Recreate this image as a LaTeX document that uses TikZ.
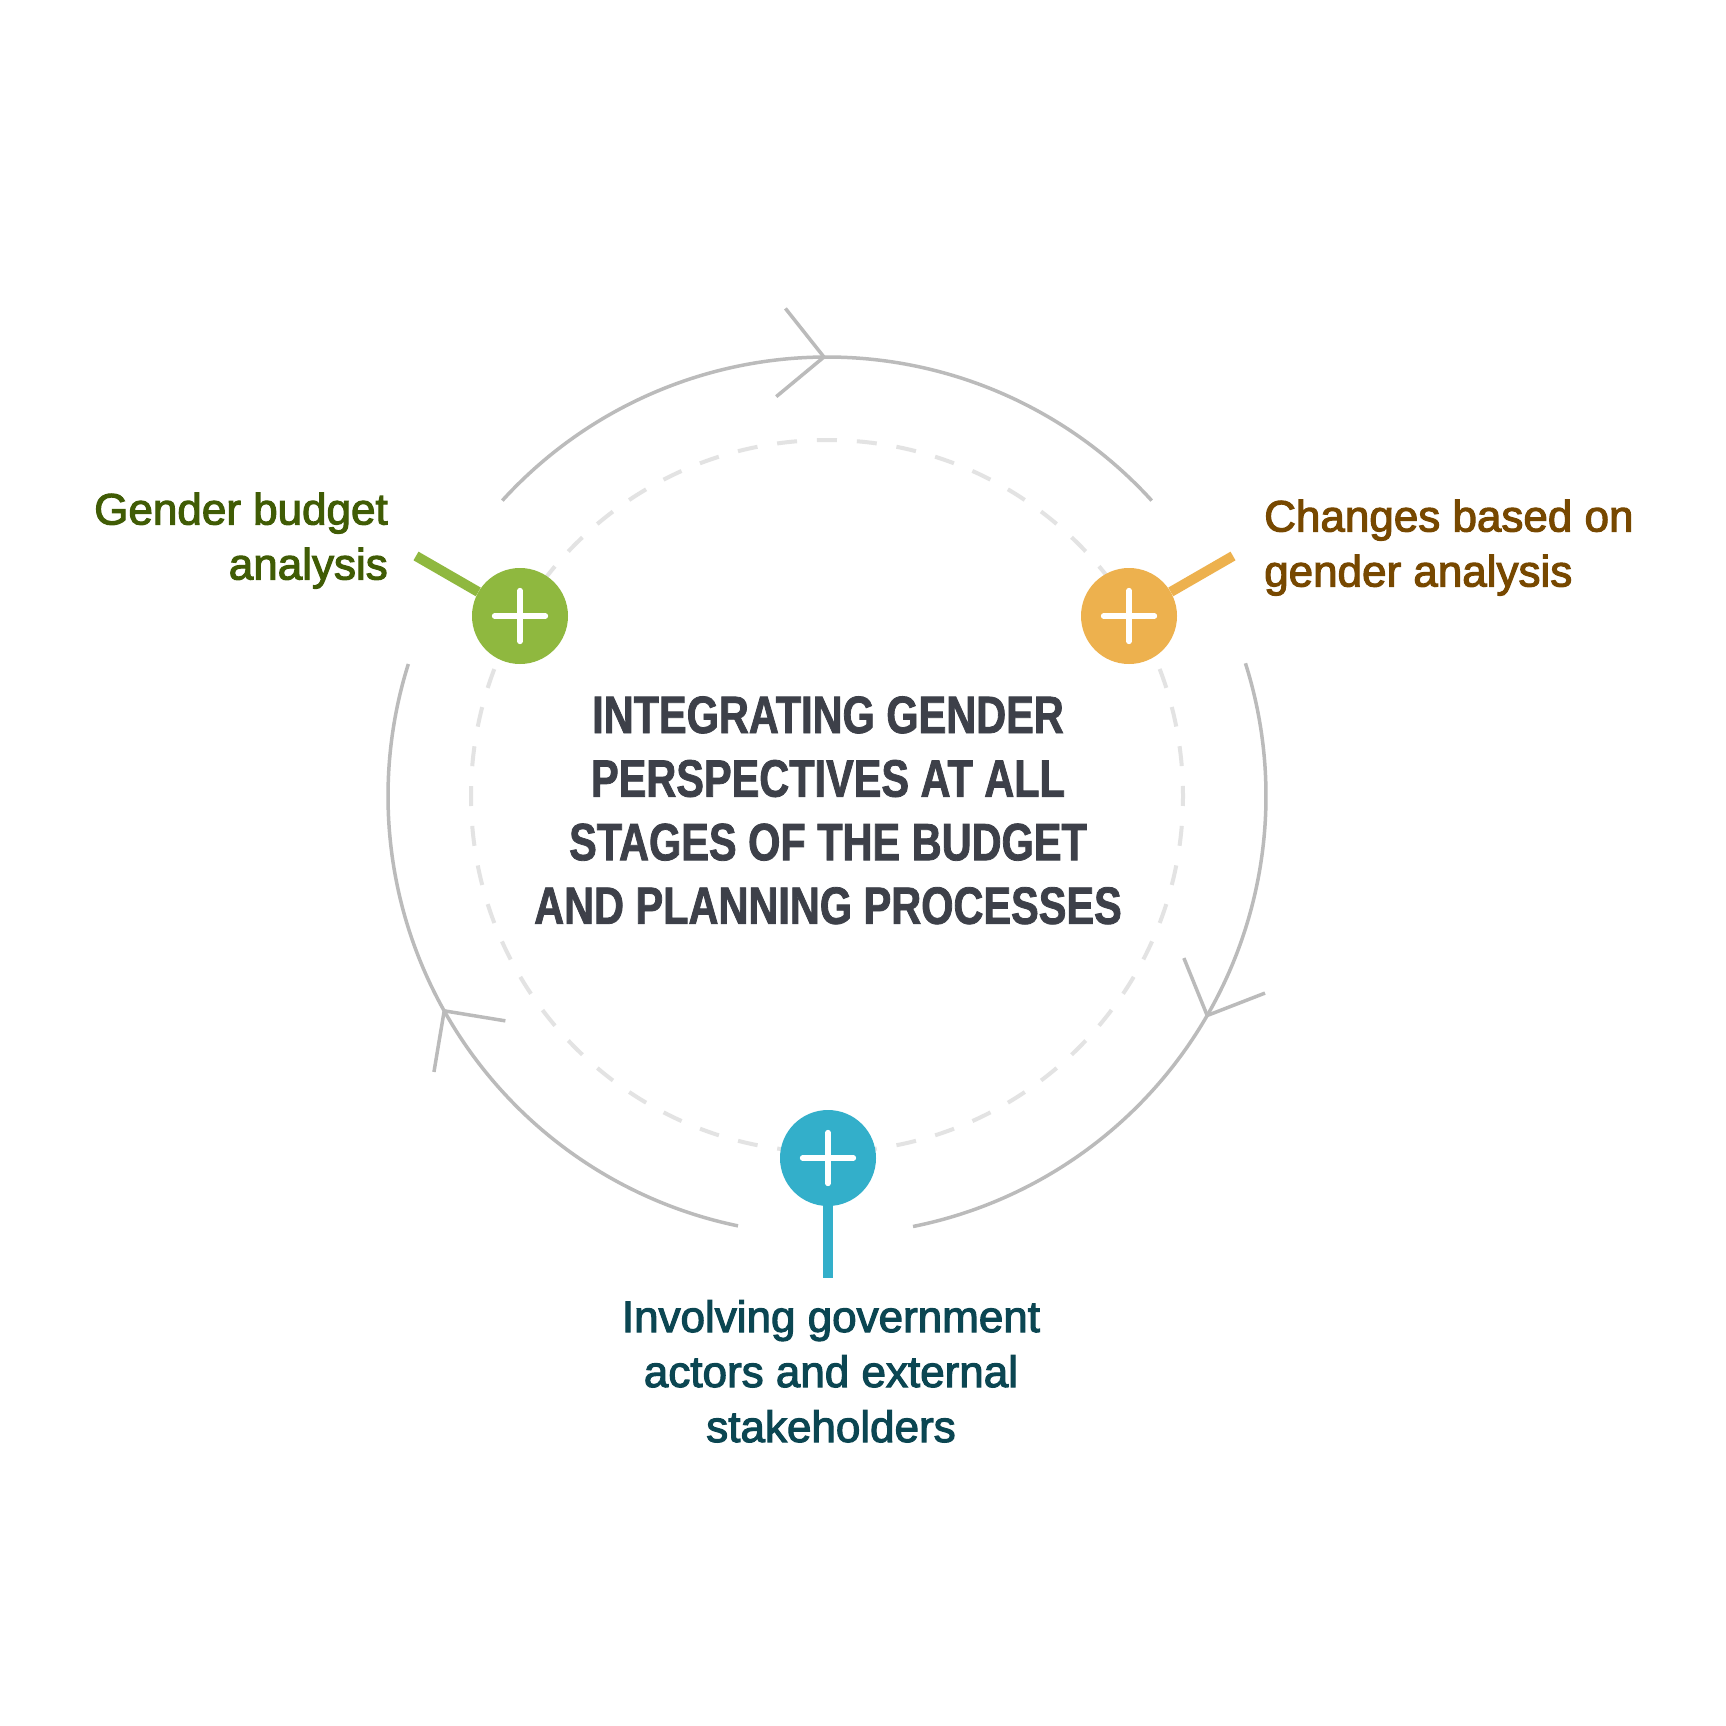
\documentclass[tikz,border=0pt]{standalone}
\usepackage{fontspec}
\newfontfamily\labelfont[FakeBold=2.5]{Liberation Sans}
\newfontfamily\titlefont[FakeStretch=0.79,FakeBold=1.5]{Liberation Sans}
\usetikzlibrary{calc}
\definecolor{ringgray}{HTML}{BBBBBB}
\definecolor{dashgray}{HTML}{E3E3E3}
\definecolor{nodegreen}{HTML}{8FB83F}
\definecolor{nodeorange}{HTML}{EDB14E}
\definecolor{nodeteal}{HTML}{33AFCA}
\definecolor{txtgreen}{HTML}{405C05}
\definecolor{txtorange}{HTML}{774800}
\definecolor{txtteal}{HTML}{0B4652}
\definecolor{titlegray}{HTML}{3D4049}
\begin{document}
\begin{tikzpicture}[x=1pt,y=1pt,
  ring/.style={draw=ringgray, line width=3.5pt, line join=round},
  dashring/.style={draw=dashgray, line width=4pt, dash pattern=on 20pt off 19.95pt, dash phase=10pt},
  dot/.style={circle, minimum size=96pt, inner sep=0pt, draw=none},
  stem/.style={line width=10pt},
  plus/.style={draw=white, line width=5.3pt, line cap=round},
  lbl/.style={font=\labelfont\fontsize{44}{55}\selectfont, inner sep=0pt},
  ttl/.style={font=\titlefont\bfseries\fontsize{52.5}{63.6}\selectfont, inner sep=0pt, text=titlegray}]
\useasboundingbox[fill=white] (0,0) rectangle (1726,-1726);
\coordinate (O) at (827,-796);
% dashed inner ring
\draw[dashring] ($(O)+(180:356)$) arc[start angle=180, end angle=540, radius=356pt];
% outer ring segments
\draw[ring] ($(O)+(137.7:439)$) arc[start angle=137.7, end angle=42.3, radius=439pt];
\draw[ring] ($(O)+(17.6:439)$) arc[start angle=17.6, end angle=-78.7, radius=439pt];
\draw[ring] ($(O)+(258.3:439)$) arc[start angle=258.3, end angle=162.5, radius=439pt];
% arrow chevrons
\coordinate (a1) at ($(O)+(90.4:439)$);
\coordinate (a2) at ($(O)+(-30:439)$);
\coordinate (a3) at ($(O)+(209.3:439)$);
\draw[ring] ($(a1)+(128.4:62)$) -- (a1) -- ($(a1)+(219.7:62)$);
\draw[ring] ($(a2)+(112.1:62)$) -- (a2) -- ($(a2)+(21.2:62)$);
\draw[ring] ($(a3)+(260.5:62)$) -- (a3) -- ($(a3)+(350.7:62)$);
% nodes
\node[dot, fill=nodegreen] (g) at (520,-616) {};
\node[dot, fill=nodeorange] (o) at (1129,-616) {};
\node[dot, fill=nodeteal] (t) at (828,-1158) {};
% stems
\coordinate (gEnd) at (416,-556);
\coordinate (oEnd) at (1233,-556);
\coordinate (tEnd) at (828,-1278);
\draw[stem, nodegreen] (g) -- (gEnd);
\draw[stem, nodeorange] (o) -- (oEnd);
\draw[stem, nodeteal] (t) -- (tEnd);
% plus signs
\foreach \n in {g,o,t}{
  \draw[plus] ($(\n)+(-25.5,0)$) -- ($(\n)+(25.5,0)$);
  \draw[plus] ($(\n)+(0,-25.5)$) -- ($(\n)+(0,25.5)$);
}
% labels
\node[lbl, text=txtgreen, anchor=base east] (tg) at (388,-524.5)
  {\begin{tabular}[t]{@{}r@{}}Gender budget\\analysis\end{tabular}};
\node[lbl, text=txtorange, anchor=base west] (to) at (1264,-531.5)
  {\begin{tabular}[t]{@{}l@{}}Changes based on\\gender analysis\end{tabular}};
\node[lbl, text=txtteal, anchor=base] (tt) at (831,-1332)
  {\begin{tabular}[t]{@{}c@{}}Involving government\\actors and external\\stakeholders\end{tabular}};
\node[ttl, anchor=base] (title) at (828,-733)
  {\begin{tabular}[t]{@{}c@{}}INTEGRATING GENDER\\PERSPECTIVES AT ALL\\STAGES OF THE BUDGET\\AND PLANNING PROCESSES\end{tabular}};
\end{tikzpicture}
\end{document}
